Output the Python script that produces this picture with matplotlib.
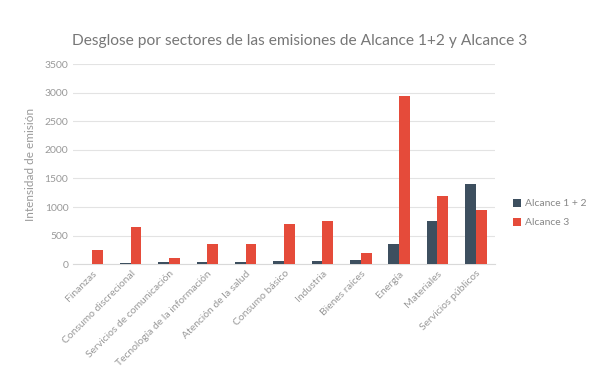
import numpy as np
import matplotlib
matplotlib.use("Agg")
import matplotlib.pyplot as plt

sectores = ["Finanzas", "Consumo discrecional", "Servicios de comunicación",
            "Tecnología de la información", "Atención de la salud", "Consumo básico",
            "Industria", "Bienes raíces", "Energía", "Materiales", "Servicios públicos"]
alcance_12 = [5, 20, 45, 45, 45, 50, 60, 70, 350, 750, 1400]
alcance_3 = [250, 650, 100, 350, 350, 700, 750, 200, 2950, 1200, 950]
y_ticks = [0, 500, 1000, 1500, 2000, 2500, 3000, 3500]

plt.rcParams['font.family'] = ['Lato', 'DejaVu Sans']
gris = "#999999"

fig = plt.figure(figsize=(6, 3.89), dpi=100)
ax = fig.add_axes([0.122, 0.321, 0.703, 0.514])

x = np.arange(len(sectores))
w = 0.28
ax.bar(x - w / 2, alcance_12, w, color="#3d4f5f", label="Alcance 1 + 2", zorder=3)
ax.bar(x + w / 2, alcance_3, w, color="#e54b3a", label="Alcance 3", zorder=3)

ax.set_xlim(-0.5, len(sectores) - 0.5)
ax.set_ylim(0, 3500)
ax.set_yticks(y_ticks)
ax.yaxis.grid(True, color="#e3e3e3", linewidth=0.8, zorder=0)
ax.tick_params(axis="both", length=0, colors=gris, labelsize=7.5)
ax.set_xticks(x)
ax.set_xticklabels(sectores, rotation=45, ha="right", rotation_mode="anchor")
for s in ["top", "right", "left"]:
    ax.spines[s].set_visible(False)
ax.spines["bottom"].set_color("#d9d9d9")

ax.set_ylabel("Intensidad de emisión", color=gris, fontsize=8.5, labelpad=6)
fig.text(0.5, 0.895, "Desglose por sectores de las emisiones de Alcance 1+2 y Alcance 3",
         ha="center", va="center", fontsize=11.2, color="#777777")

ax.legend(loc="center left", bbox_to_anchor=(1.02, 0.255), frameon=False,
          fontsize=7.5, labelcolor="#888888", handlelength=0.8, handleheight=0.8,
          handletextpad=0.4, labelspacing=0.9)

fig.savefig("out.png", dpi=100)
